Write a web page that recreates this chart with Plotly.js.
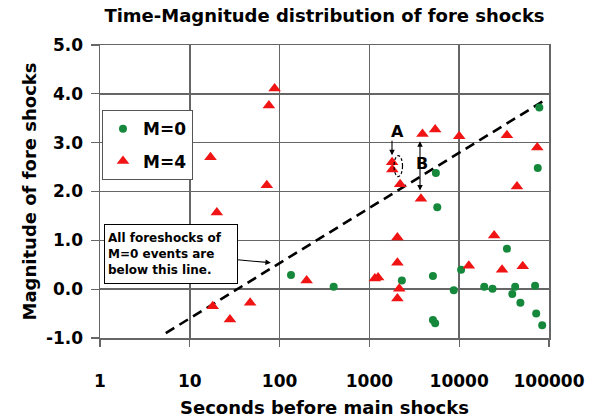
<!DOCTYPE html>
<html>
<head>
<meta charset="utf-8">
<script src="https://cdn.plot.ly/plotly-3.0.1.min.js"></script>
<style>
  html, body { margin: 0; padding: 0; background: #ffffff; }
  #chart { width: 593px; height: 418px; }
</style>
</head>
<body>
<div id="chart"></div>
<script>
// Fore shocks of M=0 main events (seconds before main shock, magnitude)
const m0Seconds   = [134, 400, 2300, 5100, 5100, 5400, 5500, 5700, 8700, 10500, 19000,
                     23500, 34000, 39000, 42000, 48000, 70000, 72000, 75000, 78000, 84000];
const m0Magnitude = [0.29, 0.05, 0.18, 0.27, -0.63, -0.70, 2.38, 1.68, -0.02, 0.40, 0.05,
                     0.01, 0.83, -0.10, 0.05, -0.28, 0.07, -0.50, 2.48, 3.72, -0.74];

// Fore shocks of M=4 main events
const m4Seconds   = [17, 20, 18, 28, 47, 72, 76, 88, 200, 1150, 1250, 1790, 1800, 2050,
                     2050, 2150, 2050, 2200, 3750, 3900, 5400, 10000, 12800, 24500, 30000,
                     34000, 44000, 51000, 74000];
const m4Magnitude = [2.70, 1.57, -0.35, -0.62, -0.28, 2.13, 3.76, 4.11, 0.18, 0.22, 0.24,
                     2.60, 2.45, 1.06, 0.54, 0.01, -0.19, 2.15, 1.85, 3.18, 3.27, 3.13,
                     0.48, 1.10, 0.40, 3.15, 2.10, 0.47, 2.90];

// Boundary line: every M=0 fore shock lies below it
const boundarySeconds   = [5.4, 86000];
const boundaryMagnitude = [-0.9, 3.85];

// Axis ticks
const xTickVals = [1, 10, 100, 1000, 10000, 100000];
const xTickText = ['1', '10', '100', '1000', '10000', '100000'];
const yTickVals = [-1, 0, 1, 2, 3, 4, 5];
const yTickText = ['-1.0', '0.0', '1.0', '2.0', '3.0', '4.0', '5.0'];

// Marked event "A" and gap "B" to the boundary
const markA = { seconds: 1880, magnitude: 2.52 };
const labelA = { seconds: 2080, magnitude: 3.23, arrowFrom: 3.07, arrowTo: 2.74, arrowSeconds: 1785 };
const gapB = { seconds: 3660, top: 3.06, bottom: 2.02, labelSeconds: 3880, labelMagnitude: 2.58 };
const noteTip = { seconds: 80, magnitude: 0.54 };

const FONT = '"DejaVu Sans", "Liberation Sans", Arial, sans-serif';
const GRID = '#666666';
const lg = Math.log10;

const traces = [
  {
    x: boundarySeconds, y: boundaryMagnitude,
    mode: 'lines', type: 'scatter', showlegend: false, hoverinfo: 'skip',
    line: { color: '#000000', width: 2.6, dash: '10px,6px' }
  },
  {
    x: m0Seconds, y: m0Magnitude, name: '<b>M=0</b>',
    mode: 'markers', type: 'scatter', legendgroup: 'g0',
    marker: { symbol: 'circle', size: 8, color: '#15883c' }
  },
  {
    x: m4Seconds, y: m4Magnitude, name: '<b>M=4</b>',
    mode: 'markers', type: 'scatter', legendgroup: 'g4',
    marker: { symbol: 'triangle-up', size: 11, color: '#f01414' }
  }
];

const layout = {
  width: 593, height: 418,
  margin: { l: 100, r: 44, t: 45, b: 80 },
  paper_bgcolor: '#ffffff', plot_bgcolor: '#ffffff',
  font: { family: FONT, color: '#000000' },
  title: {
    text: '<b>Time-Magnitude distribution of fore shocks</b>',
    font: { family: FONT, size: 18, color: '#000000' },
    x: 0.5, xref: 'paper', xanchor: 'center',
    y: 0.962, yref: 'container', yanchor: 'middle'
  },
  xaxis: {
    type: 'log', range: [0, 5],
    tickvals: xTickVals, ticktext: xTickText.map(t => '<b>' + t + '</b>'),
    tickfont: { family: FONT, size: 17, color: '#000000' },
    ticks: 'outside', ticklen: 7, tickcolor: GRID, tickwidth: 1.3,
    ticklabelstandoff: 20,
    showgrid: true, gridcolor: GRID, gridwidth: 1.5,
    showline: true, linecolor: GRID, linewidth: 1.5, mirror: true,
    zeroline: false,
    title: {
      text: '<b>Seconds before main shocks</b>',
      font: { family: FONT, size: 18, color: '#000000' },
      standoff: 11
    }
  },
  yaxis: {
    range: [-1, 5],
    tickvals: yTickVals, ticktext: yTickText.map(t => '<b>' + t + '</b>'),
    tickfont: { family: FONT, size: 17, color: '#000000' },
    ticks: 'outside', ticklen: 8, tickcolor: GRID, tickwidth: 1.3,
    ticklabelstandoff: 4,
    showgrid: true, gridcolor: GRID, gridwidth: 1.5,
    showline: true, linecolor: GRID, linewidth: 1.5, mirror: true,
    zeroline: false,
    title: {
      text: '<b>Magnitude of fore shocks</b>',
      font: { family: FONT, size: 18, color: '#000000' },
      standoff: 4
    }
  },
  legend: {
    x: 0.004, xanchor: 'left', y: 0.778, yanchor: 'top',
    bgcolor: '#ffffff', bordercolor: '#555555', borderwidth: 1.2,
    font: { family: FONT, size: 17, color: '#000000' },
    tracegroupgap: 7, itemwidth: 30,
    traceorder: 'grouped'
  },
  shapes: [
    {
      type: 'circle', xref: 'x', yref: 'y',
      xsizemode: 'pixel', ysizemode: 'pixel',
      xanchor: markA.seconds, yanchor: markA.magnitude,
      x0: -8.5, x1: 8.5, y0: -10.5, y1: 10.5,
      line: { color: '#000000', width: 1.2, dash: '3px,2px' }
    }
  ],
  annotations: [
    {
      x: lg(noteTip.seconds), y: noteTip.magnitude, xref: 'x', yref: 'y',
      ax: -100, ay: -9,
      text: '<b>All foreshocks of<br>M=0 events are<br>below this line.</b>',
      align: 'left', width: 126, height: 52, valign: 'middle',
      font: { family: FONT, size: 12, color: '#000000' },
      bgcolor: '#ffffff', bordercolor: '#000000', borderwidth: 1, borderpad: 3,
      showarrow: true, arrowhead: 2, arrowsize: 1, arrowwidth: 1.1, arrowcolor: '#000000'
    },
    {
      x: lg(labelA.seconds), y: labelA.magnitude, xref: 'x', yref: 'y',
      text: '<b>A</b>', showarrow: false,
      font: { family: FONT, size: 16, color: '#000000' }
    },
    {
      x: lg(labelA.arrowSeconds), y: labelA.arrowTo, xref: 'x', yref: 'y',
      ax: lg(labelA.arrowSeconds), ay: labelA.arrowFrom, axref: 'x', ayref: 'y',
      text: '', showarrow: true, arrowhead: 2, arrowsize: 1, arrowwidth: 1.1, arrowcolor: '#000000'
    },
    {
      x: lg(gapB.seconds), y: gapB.bottom, xref: 'x', yref: 'y',
      ax: lg(gapB.seconds), ay: gapB.top, axref: 'x', ayref: 'y',
      text: '', showarrow: true, arrowside: 'end+start',
      arrowhead: 2, startarrowhead: 2, arrowsize: 1, startarrowsize: 1,
      arrowwidth: 1.1, arrowcolor: '#000000'
    },
    {
      x: lg(gapB.labelSeconds), y: gapB.labelMagnitude, xref: 'x', yref: 'y',
      text: '<b>B</b>', showarrow: false,
      font: { family: FONT, size: 16, color: '#000000' }
    }
  ]
};

Plotly.newPlot('chart', traces, layout, { staticPlot: true, displayModeBar: false });
</script>
</body>
</html>
